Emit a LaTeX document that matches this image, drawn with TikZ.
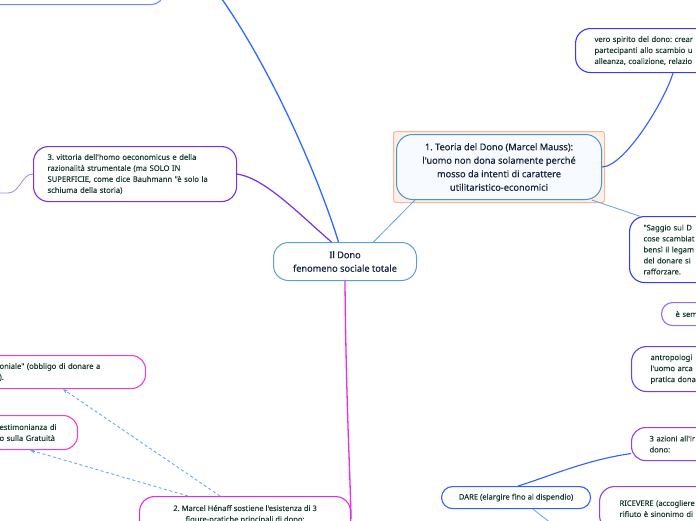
\documentclass[tikz,border=0pt]{standalone}
\usepackage{fontspec}
\setmainfont{Noto Sans}
\newfontfamily\medfont[FakeBold=0.45]{Noto Sans}
\newfontfamily\smallfont[FakeBold=0.2]{Noto Sans}
\frenchspacing
\usetikzlibrary{arrows.meta}
\definecolor{txtg}{HTML}{173C2E}
\definecolor{txtn}{HTML}{16243E}
\definecolor{tlb}{HTML}{6B8EFF}
\definecolor{topb}{HTML}{2F6BFF}
\definecolor{cenb}{HTML}{5B9FD8}
\definecolor{n1b}{HTML}{4A94D6}
\definecolor{n1fill}{HTML}{F7FBFF}
\definecolor{hlfill}{HTML}{FDEEE6}
\definecolor{hlb}{HTML}{F2B9A2}
\definecolor{bluebox}{HTML}{3A3AF0}
\definecolor{bluecon}{HTML}{3060FF}
\definecolor{violetA}{HTML}{9B6BF0}
\definecolor{violetB}{HTML}{6A40F0}
\definecolor{violetC}{HTML}{9040F0}
\definecolor{violetD}{HTML}{7A2EEE}
\definecolor{violetL}{HTML}{A585F2}
\definecolor{pinkbox}{HTML}{F040C8}
\definecolor{magbox}{HTML}{E02CF0}
\definecolor{magcon}{HTML}{E52BF5}
\definecolor{lightb}{HTML}{5FA3E8}
\definecolor{dashb}{HTML}{6AA8F0}
\begin{document}
\begin{tikzpicture}[x=1pt,y=-1pt,
  box/.style={draw, line width=1.1pt, fill=white, anchor=north west, inner ysep=0pt,
    font=\smallfont\fontsize{7.6}{11}\selectfont, text=txtg, align=left},
  mainbox/.style={draw, line width=1pt, anchor=north west, inner ysep=0pt,
    font=\medfont\fontsize{9.2}{13.5}\selectfont, text=txtn, align=center},
  thick con/.style={line width=1.3pt},
  thin con/.style={line width=0.8pt, draw=lightb},
  dash con/.style={line width=0.9pt, draw=dashb, dash pattern=on 3pt off 2.5pt,
    -{Stealth[length=5pt,width=4.2pt]}}
]
\clip (0,0) rectangle (696,520);
\fill[white] (0,0) rectangle (696,520);

% top-left node (only bottom edge visible)
\node[box, draw=tlb, rounded corners=12pt, minimum width=223pt, minimum height=44pt, text width=1pt, inner xsep=10pt] (tl) at (-60,-40) {};

% central node
\node[mainbox, draw=cenb, fill=white, rounded corners=15pt, minimum width=143pt, minimum height=38pt] (central) at (273,242)
  {Il Dono\\fenomeno sociale totale};

% node 1 with highlight
\node[draw=hlb, fill=hlfill, line width=1pt, rounded corners=2.5pt, anchor=north west, minimum width=211pt, minimum height=71pt, inner sep=0pt] (n1hl) at (393,131) {};
\node[mainbox, draw=n1b, fill=n1fill, rounded corners=16pt, minimum width=205pt, minimum height=65pt] (n1) at (396,134)
  {1. Teoria del Dono (Marcel Mauss):\\l'uomo non dona solamente perché\\mosso da intenti di carattere\\utilitaristico-economici};

% right side nodes
\node[box, draw=bluebox, rounded corners=15pt, minimum width=170pt, minimum height=44pt, inner xsep=19pt, text width=132pt] (vero) at (575,28)
  {vero spirito del dono: crear\\partecipanti allo scambio u\\alleanza, coalizione, relazio};
\node[box, draw=bluebox, rounded corners=15pt, minimum width=120pt, minimum height=66pt, inner xsep=14pt, text width=92pt] (saggio) at (629,216)
  {"Saggio sul D\\cose scambiat\\bensì il legam\\del donare si\\rafforzare.};
\node[box, draw=violetA, rounded corners=11pt, minimum width=80pt, minimum height=23pt, inner xsep=14pt, text width=52pt] (esem) at (661,302)
  {è sem};
\node[box, draw=violetB, rounded corners=15pt, minimum width=110pt, minimum height=45pt, inner xsep=19pt, text width=72pt] (antrop) at (631,346)
  {antropologi\\l'uomo arca\\pratica dona};
\node[box, draw=violetC, rounded corners=14pt, minimum width=110pt, minimum height=33pt, inner xsep=18pt, text width=74pt] (azioni) at (631,427)
  {3 azioni all'ir\\dono:};
\node[box, draw=bluecon, rounded corners=11pt, minimum width=149pt, minimum height=22pt, inner xsep=8pt, align=center] (dare) at (441,486)
  {DARE (elargire fino al dispendio)};
\node[box, draw=violetC, rounded corners=15pt, minimum width=130pt, minimum height=44pt, inner xsep=20pt, text width=90pt] (ricevere) at (599,486)
  {RICEVERE (accogliere\\rifiuto è sinonimo di};

% left side nodes
\node[box, draw=violetD, rounded corners=15pt, minimum width=203pt, minimum height=55pt, inner xsep=14pt, text width=175pt] (vittoria) at (33,146)
  {3. vittoria dell'homo oeconomicus e della\\razionalità strumentale (ma SOLO IN\\SUPERFICIE, come dice Bauhmann "è solo la\\schiuma della storia)};
\node[box, draw=pinkbox, rounded corners=14pt, minimum width=160pt, minimum height=33pt, inner xsep=14pt, text width=132pt] (cerim) at (-15,355)
  {oniale" (obbligo di donare a\\).};
\node[box, draw=pinkbox, rounded corners=14pt, minimum width=90pt, minimum height=34pt, inner xsep=12pt, text width=66pt] (testi) at (-13,415)
  {estimonianza di\\o sulla Gratuità};
\node[box, draw=magbox, rounded corners=15pt, minimum width=211pt, minimum height=45pt, inner xsep=8pt, align=center] (henaff) at (139,496)
  {2. Marcel Hénaff sostiene l'esistenza di 3\\figure-pratiche principali di dono:\\\mbox{}};

% free ends
\coordinate (topend) at (200,-30);
\coordinate (leftend) at (-5,193);
\coordinate (dareend) at (552,524);

% connectors
\draw[thick con, draw=topb] ([xshift=-6.5pt]central.north) .. controls (318,175) and (262,45) .. (topend);
\draw[line width=1.2pt, draw=violetD] ([xshift=-13.5pt]central.north) .. controls (300,215) and (265,178) .. (vittoria.east);
\draw[line width=0.8pt, draw=violetL] (vittoria.west) .. controls (22,173.5) and (20,193) .. (8,193) -- (leftend);
\draw[thin con] ([xshift=28.5pt]central.north) -- ([xshift=19pt]n1.south west);
\draw[line width=1.1pt, draw=bluecon] (n1.east) .. controls (625,166.5) and (665,100) .. ([xshift=98pt]vero.south west);
\draw[thin con] ([xshift=-10pt]n1.south east) -- ([xshift=13pt,yshift=-1pt]saggio.north west);
\draw[thick con, draw=magcon] (central.south) .. controls (346,400) and (350,470) .. (henaff.east);
\draw[dash con] ([xshift=81pt]henaff.north west) -- ([xshift=78pt]cerim.south west);
\draw[dash con] ([xshift=49pt]henaff.north west) -- ([xshift=43pt]testi.south west);
\draw[line width=1.1pt, draw=bluecon] ([yshift=-9.5pt]azioni.west) .. controls (585,460) and (545,478) .. ([xshift=2pt]dare.north);
\draw[thin con] ([xshift=17pt]dare.south) -- (dareend);
\end{tikzpicture}
\end{document}
